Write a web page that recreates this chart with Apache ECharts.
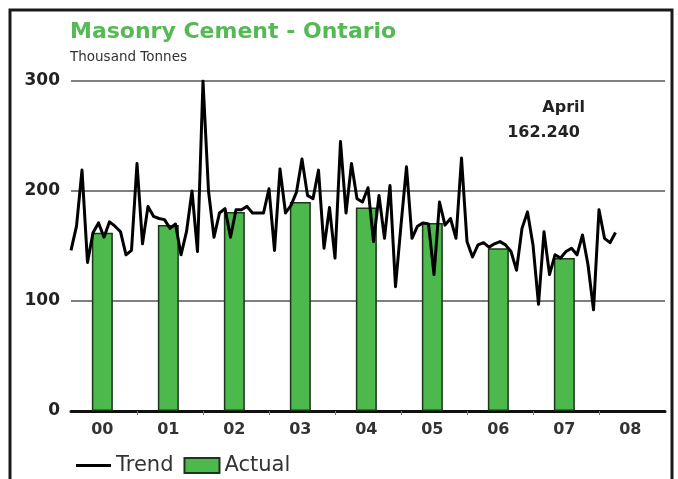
<!DOCTYPE html>
<html>
<head>
<meta charset="utf-8">
<script src="https://cdn.jsdelivr.net/npm/echarts@6/dist/echarts.min.js"></script>
<style>
html,body{margin:0;padding:0;background:#fff;}
#c{width:678px;height:479px;}
</style>
</head>
<body>
<div id="c"></div>
<script>
// ---- Data ----
// Monthly trend, Jan 2000 .. Apr 2008 (thousand tonnes)
const trend = [
  146,168,219,135,162,171,158,172,168,163,142,146,
  225,152,186,177,175,174,166,170,142,163,200,145,
  300,200,158,180,184,158,183,183,186,180,180,180,
  202,146,220,180,187,199,229,196,193,219,148,185,
  139,245,180,225,193,190,203,154,196,157,205,113,
  169,222,157,168,171,170,124,190,169,175,157,230,
  154,140,151,153,149,152,154,151,145,128,166,181,
  151,97,163,124,142,139,145,148,142,160,133,92,
  183,157,153,162.24
];
// Annual actual values, 2000 .. 2007
const actual = [162, 169, 181, 190, 185, 171, 148, 139];
// X axis year labels
const yearLabels = ['00','01','02','03','04','05','06','07','08'];
// Y axis ticks
const yTicks = [0, 100, 200, 300];
const lastMonthLabel = 'April';
const lastValueLabel = '162.240';

// ---- Build ----
const MONTHS_PER_YEAR = 12;
const MID = 5.7; // annual bars sit at mid-year
const trendData = trend.map((v, i) => [i, v]);
const actualData = actual.map((v, k) => [k * MONTHS_PER_YEAR + MID, v]);
const labelPos = yearLabels.map((_, k) => k * MONTHS_PER_YEAR + MID);
const tickPos = yearLabels.slice(1).map((_, k) => (k + 1) * MONTHS_PER_YEAR);

const chart = echarts.init(document.getElementById('c'), null, {renderer: 'canvas'});
chart.setOption({
  animation: false,
  backgroundColor: '#ffffff',
  title: [
    {text: 'Masonry Cement - Ontario', left: 70, top: 21, padding: 0,
     textStyle: {fontFamily: 'DejaVu Sans', fontWeight: 'bold', fontSize: 22, color: '#55b955'}},
    {text: 'Thousand Tonnes', left: 70, top: 50, padding: 0,
     textStyle: {fontFamily: 'DejaVu Sans', fontWeight: 'normal', fontSize: 13.5, color: '#333'}}
  ],
  graphic: [
    {type: 'rect', silent: true, z: 100,
     shape: {x: 10, y: 10, width: 662, height: 500},
     style: {fill: 'none', stroke: '#1a1a1a', lineWidth: 3}},
    {type: 'text', x: 585, y: 108, z: 100,
     style: {text: lastMonthLabel, font: 'bold 16px "DejaVu Sans"', fill: '#222', align: 'right', verticalAlign: 'middle'}},
    {type: 'text', x: 580, y: 133, z: 100,
     style: {text: lastValueLabel, font: 'bold 16px "DejaVu Sans"', fill: '#222', align: 'right', verticalAlign: 'middle'}}
  ],
  legend: {
    left: 76, top: 455, itemWidth: 35, itemHeight: 15, itemGap: 10, padding: 0,
    textStyle: {fontFamily: 'DejaVu Sans', fontSize: 21, color: '#333'},
    data: [
      {name: 'Trend', icon: 'path://M0,0H36V3H0Z'},
      {name: 'Actual', icon: 'rect'}
    ]
  },
  grid: {left: 71, right: 13, top: 81, bottom: 68, containLabel: false},
  xAxis: {
    type: 'value', min: 0, max: yearLabels.length * MONTHS_PER_YEAR,
    axisLine: {show: true, onZero: false, lineStyle: {color: '#111', width: 3}},
    axisTick: {show: true, customValues: tickPos, length: 4, lineStyle: {color: '#777', width: 1}},
    axisLabel: {
      customValues: labelPos,
      formatter: v => yearLabels[Math.round((v - MID) / MONTHS_PER_YEAR)] || '',
      fontFamily: 'DejaVu Sans', fontWeight: 'bold', fontSize: 16, color: '#333', margin: 11
    },
    splitLine: {show: false}
  },
  yAxis: {
    type: 'value', min: yTicks[0], max: yTicks[yTicks.length - 1], interval: 100,
    axisLine: {show: false}, axisTick: {show: false},
    axisLabel: {fontFamily: 'DejaVu Sans', fontWeight: 'bold', fontSize: 17, color: '#222', margin: 11},
    splitLine: {show: true, lineStyle: {color: '#555', width: 1.5}}
  },
  series: [
    {name: 'Actual', type: 'bar', data: actualData, barWidth: 21, z: 2,
     itemStyle: {color: '#4db84b', borderColor: '#1c361c', borderWidth: 1.5}},
    {name: 'Trend', type: 'line', data: trendData, symbol: 'none', z: 3,
     lineStyle: {color: '#000', width: 3, join: 'round'}, itemStyle: {color: '#000'}}
  ]
});
</script>
</body>
</html>
